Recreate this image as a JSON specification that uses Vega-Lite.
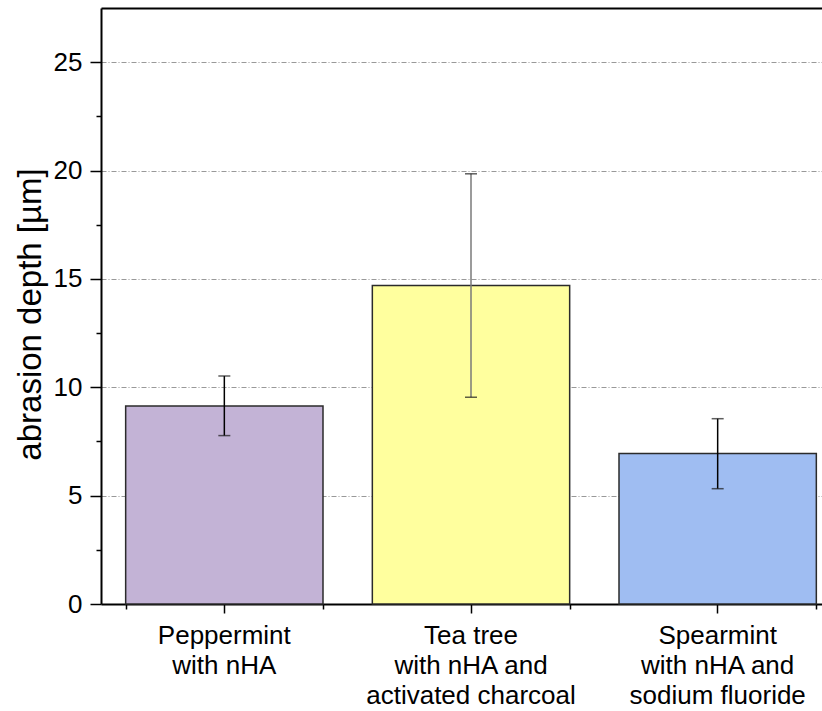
{
  "$schema": "https://vega.github.io/schema/vega-lite/v6.json",
  "width": 721,
  "height": 596,
  "autosize": {"type": "none"},
  "padding": {"left": 101, "top": 8, "right": 0, "bottom": 107},
  "background": "white",
  "config": {"font": "Liberation Sans", "view": {"stroke": null}},
  "data": {
    "values": [
      {"cat": "Peppermint\nwith nHA", "mean": 9.14, "low": 7.77, "high": 10.52},
      {"cat": "Tea tree\nwith nHA and\nactivated charcoal", "mean": 14.7, "low": 9.54, "high": 19.85},
      {"cat": "Spearmint\nwith nHA and\nsodium fluoride", "mean": 6.94, "low": 5.32, "high": 8.55}
    ]
  },
  "layer": [
    {
      "mark": {"type": "bar", "stroke": "#2b2b2b", "strokeWidth": 1.5},
      "encoding": {
        "x": {
          "field": "cat", "type": "nominal", "sort": null,
          "scale": {"range": [0, 740], "paddingInner": 0.2, "paddingOuter": 0.1},
          "axis": {
            "orient": "bottom",
            "title": null, "labelAngle": 0, "labelFontSize": 26, "labelColor": "black",
            "labelLineHeight": 30, "labelPadding": 9, "labelBaseline": "top", "labelLimit": 0,
            "labelExpr": "split(datum.label, '\\n')",
            "tickSize": 9, "tickWidth": 1.5, "tickColor": "black",
            "domainColor": "black", "domainWidth": 2, "grid": false
          }
        },
        "y": {
          "field": "mean", "type": "quantitative", "title": "abrasion depth [µm]",
          "scale": {"domain": [0, 27.5], "nice": false, "zero": true},
          "axis": {
            "values": [0, 2.5, 5, 7.5, 10, 12.5, 15, 17.5, 20, 22.5, 25],
            "labelExpr": "datum.value % 5 === 0 ? datum.label : ''",
            "labelOverlap": false,
            "tickSize": {"condition": {"test": "datum.value % 5 === 0", "value": 11}, "value": 5},
            "tickWidth": 1.5, "tickColor": "black",
            "domainColor": "black", "domainWidth": 2,
            "labelFontSize": 26, "labelColor": "black", "labelPadding": 8,
            "titleFontSize": 33, "titleFontWeight": "normal", "titleColor": "black",
            "titlePadding": 6, "titleY": 306,
            "grid": true, "gridColor": "#999999", "gridDash": [5, 2, 1, 2], "gridWidth": 1,
            "gridOpacity": {"condition": {"test": "datum.value % 5 === 0 && datum.value > 0", "value": 1}, "value": 0}
          }
        },
        "color": {
          "field": "cat", "type": "nominal", "sort": null,
          "scale": {"range": ["#c3b3d6", "#ffff9e", "#9fbdf2"]},
          "legend": null
        }
      }
    },
    {
      "mark": {"type": "rule", "strokeWidth": 1.5},
      "encoding": {
        "x": {
          "field": "cat", "type": "nominal", "sort": null,
          "scale": {"range": [0, 740], "paddingInner": 0.2, "paddingOuter": 0.1},
          "axis": {
            "orient": "bottom",
            "title": null, "labels": false, "domain": false, "grid": false,
            "tickBand": "extent", "tickSize": 5, "tickWidth": 1.5, "tickColor": "black"
          }
        },
        "y": {"field": "low", "type": "quantitative", "title": "abrasion depth [µm]"},
        "y2": {"field": "high"},
        "stroke": {
          "field": "cat", "type": "nominal", "sort": null,
          "scale": {"range": ["#000000", "#7a7a7a", "#000000"]},
          "legend": null
        }
      }
    },
    {
      "mark": {"type": "tick", "size": 12, "thickness": 1.5, "color": "#1a1a1a"},
      "encoding": {
        "x": {
          "field": "cat", "type": "nominal", "sort": null,
          "scale": {"range": [0, 740], "paddingInner": 0.2, "paddingOuter": 0.1},
          "axis": {
            "orient": "top", "title": null, "labels": false, "ticks": false, "grid": false,
            "domain": true, "domainColor": "black", "domainWidth": 2
          }
        },
        "y": {"field": "low", "type": "quantitative", "title": "abrasion depth [µm]"}
      }
    },
    {
      "mark": {"type": "tick", "size": 12, "thickness": 1.5, "color": "#1a1a1a"},
      "encoding": {
        "x": {
          "field": "cat", "type": "nominal", "sort": null,
          "scale": {"range": [0, 740], "paddingInner": 0.2, "paddingOuter": 0.1},
          "axis": null
        },
        "y": {"field": "high", "type": "quantitative", "title": "abrasion depth [µm]"}
      }
    }
  ],
  "resolve": {"axis": {"x": "independent"}}
}
